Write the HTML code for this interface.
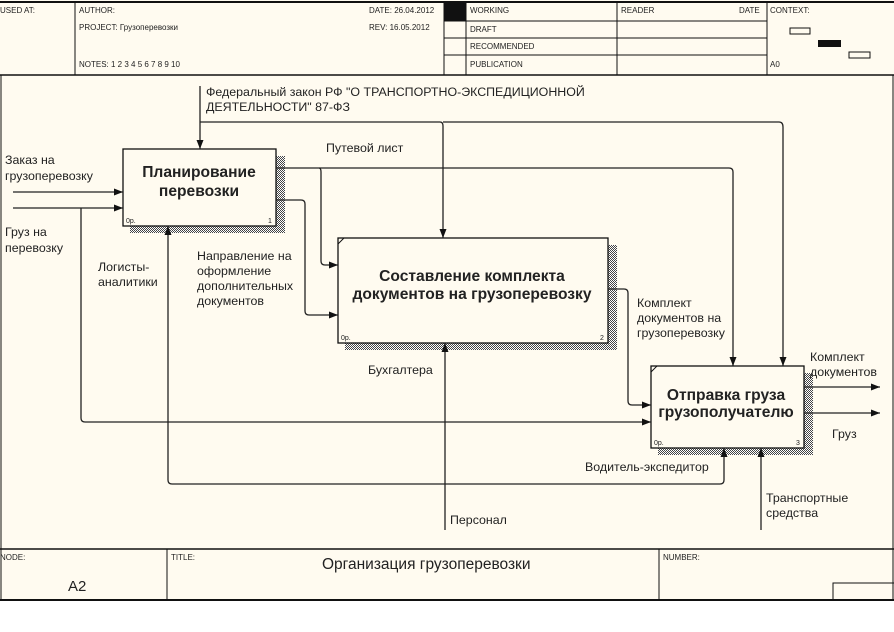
<!DOCTYPE html>
<html><head><meta charset="utf-8">
<style>
html,body{margin:0;padding:0;background:#fff;}
svg{display:block;}
text{font-family:"Liberation Sans",Arial,sans-serif;fill:#222;}
.s{font-size:8px;}
.l{font-size:12.4px;}
.b{font-size:15.6px;font-weight:bold;}
</style></head><body>
<svg width="894" height="632" viewBox="0 0 894 632" xmlns="http://www.w3.org/2000/svg">
<defs>
<pattern id="h" width="2" height="2" patternUnits="userSpaceOnUse">
<rect width="2" height="2" fill="#fff"/>
<rect width="1" height="1" fill="#444"/><rect x="1" y="1" width="1" height="1" fill="#444"/>
</pattern>
<marker id="a" markerWidth="9" markerHeight="7" refX="9" refY="3.5" orient="auto" markerUnits="userSpaceOnUse">
<path d="M0,0 L9,3.5 L0,7 z" fill="#111"/>
</marker>
</defs>
<rect x="0" y="0" width="894" height="601" fill="#fffbf0"/>
<g stroke="#111" stroke-width="1" fill="none">
<line x1="0" y1="2" x2="894" y2="2" stroke-width="2"/>
<line x1="0" y1="75" x2="894" y2="75" stroke-width="1.5"/>
<line x1="75" y1="2" x2="75" y2="75"/>
<line x1="466" y1="2" x2="466" y2="75"/>
<line x1="617" y1="2" x2="617" y2="75"/>
<line x1="767" y1="2" x2="767" y2="75"/>
<line x1="444" y1="2" x2="444" y2="75"/>
<line x1="444" y1="21" x2="767" y2="21"/>
<line x1="444" y1="38" x2="767" y2="38"/>
<line x1="444" y1="55" x2="767" y2="55"/>
<rect x="790" y="28" width="20" height="6"/>
<rect x="849" y="52" width="21" height="6"/>
</g>
<rect x="444" y="3" width="22" height="18" fill="#111"/>
<rect x="818" y="40" width="23" height="7" fill="#111"/>
<text class="s" x="0" y="13">USED AT:</text>
<text class="s" x="79" y="13">AUTHOR:</text>
<text class="s" x="79" y="30">PROJECT:  Грузоперевозки</text>
<text class="s" x="79" y="67">NOTES:  1  2  3  4  5  6  7  8  9  10</text>
<text class="s" x="369" y="13">DATE:  26.04.2012</text>
<text class="s" x="369" y="30">REV:    16.05.2012</text>
<text class="s" x="470" y="13">WORKING</text>
<text class="s" x="470" y="32">DRAFT</text>
<text class="s" x="470" y="49">RECOMMENDED</text>
<text class="s" x="470" y="67">PUBLICATION</text>
<text class="s" x="621" y="13">READER</text>
<text class="s" x="739" y="13">DATE</text>
<text class="s" x="770" y="13">CONTEXT:</text>
<text class="s" x="770" y="67">A0</text>
<g stroke="#111" fill="none">
<line x1="1" y1="75" x2="1" y2="600"/>
<line x1="893" y1="75" x2="893" y2="600"/>
<line x1="0" y1="549" x2="894" y2="549" stroke-width="1.5"/>
<line x1="0" y1="600" x2="894" y2="600" stroke-width="2"/>
<line x1="167" y1="549" x2="167" y2="600"/>
<line x1="659" y1="549" x2="659" y2="600"/>
<polyline points="833,600 833,583 894,583"/>
</g>
<text class="s" x="0" y="560">NODE:</text>
<text class="s" x="171" y="560">TITLE:</text>
<text class="s" x="663" y="560">NUMBER:</text>
<text x="68" y="591" style="font-size:15px">A2</text>
<text x="322" y="569" style="font-size:15.5px">Организация  грузоперевозки</text>
<rect x="130" y="156" width="155" height="77" fill="url(#h)"/>
<rect x="345" y="245" width="272" height="105" fill="url(#h)"/>
<rect x="658" y="373" width="155" height="82" fill="url(#h)"/>
<g stroke="#111" stroke-width="1.3" fill="#fffbf0">
<rect x="123" y="149" width="153" height="77"/>
<rect x="338" y="238" width="270" height="105"/>
<rect x="651" y="366" width="153" height="82"/>
</g>
<g stroke="#111" stroke-width="1" fill="none">
<line x1="338" y1="244" x2="344" y2="238"/>
<line x1="651" y1="372" x2="657" y2="366"/>
</g>
<text class="b" x="199" y="177" text-anchor="middle">Планирование</text>
<text class="b" x="199" y="196" text-anchor="middle">перевозки</text>
<text class="b" x="472" y="281" text-anchor="middle">Составление комплекта</text>
<text class="b" x="472" y="299" text-anchor="middle">документов на грузоперевозку</text>
<text class="b" x="726" y="400" text-anchor="middle">Отправка груза</text>
<text class="b" x="726" y="417" text-anchor="middle">грузополучателю</text>
<text class="s" x="126" y="223" style="font-size:7px">0р.</text>
<text class="s" x="268" y="223" style="font-size:7px">1</text>
<text class="s" x="341" y="340" style="font-size:7px">0р.</text>
<text class="s" x="600" y="340" style="font-size:7px">2</text>
<text class="s" x="654" y="445" style="font-size:7px">0р.</text>
<text class="s" x="796" y="445" style="font-size:7px">3</text>
<g stroke="#222" stroke-width="1.3" fill="none">
<line x1="200" y1="86" x2="200" y2="149" marker-end="url(#a)"/>
<path d="M200,122 H440 Q443,122 443,126 V238" marker-end="url(#a)"/>
<path d="M443,122 H779 Q783,122 783,127 V366" marker-end="url(#a)"/>
<line x1="13" y1="192" x2="123" y2="192" marker-end="url(#a)"/>
<line x1="13" y1="208" x2="123" y2="208" marker-end="url(#a)"/>
<path d="M81,208 V418 Q81,422 85,422 H651" marker-end="url(#a)"/>
<path d="M276,168 H729 Q733,168 733,172 V366" marker-end="url(#a)"/>
<path d="M319,168 Q321,168 321,172 V261 Q321,265 325,265 H338" marker-end="url(#a)"/>
<path d="M276,200 H301 Q305,200 305,204 V311 Q305,315 309,315 H338" marker-end="url(#a)"/>
<path d="M608,289 H624 Q628,289 628,293 V401 Q628,405 632,405 H651" marker-end="url(#a)"/>
<line x1="445" y1="530" x2="445" y2="343" marker-end="url(#a)"/>
<path d="M445,484 H172 Q168,484 168,480 V226" marker-end="url(#a)"/>
<path d="M445,484 H720 Q724,484 724,480 V448" marker-end="url(#a)"/>
<line x1="761" y1="530" x2="761" y2="448" marker-end="url(#a)"/>
<line x1="804" y1="387" x2="880" y2="387" marker-end="url(#a)"/>
<line x1="804" y1="413" x2="880" y2="413" marker-end="url(#a)"/>
</g>
<text class="l" x="206" y="96">Федеральный закон РФ "О ТРАНСПОРТНО-ЭКСПЕДИЦИОННОЙ</text>
<text class="l" x="206" y="111">ДЕЯТЕЛЬНОСТИ" 87-ФЗ</text>
<text class="l" x="326" y="152">Путевой лист</text>
<text class="l" x="5" y="164">Заказ на</text>
<text class="l" x="5" y="180">грузоперевозку</text>
<text class="l" x="5" y="236">Груз на</text>
<text class="l" x="5" y="252">перевозку</text>
<text class="l" x="98" y="271">Логисты-</text>
<text class="l" x="98" y="286">аналитики</text>
<text class="l" x="197" y="260">Направление на</text>
<text class="l" x="197" y="275">оформление</text>
<text class="l" x="197" y="290">дополнительных</text>
<text class="l" x="197" y="305">документов</text>
<text class="l" x="637" y="307">Комплект</text>
<text class="l" x="637" y="322">документов на</text>
<text class="l" x="637" y="337">грузоперевозку</text>
<text class="l" x="368" y="374">Бухгалтера</text>
<text class="l" x="810" y="361">Комплект</text>
<text class="l" x="810" y="376">документов</text>
<text class="l" x="832" y="438">Груз</text>
<text class="l" x="585" y="471">Водитель-экспедитор</text>
<text class="l" x="766" y="502">Транспортные</text>
<text class="l" x="766" y="517">средства</text>
<text class="l" x="450" y="524">Персонал</text>
</svg>
</body></html>
